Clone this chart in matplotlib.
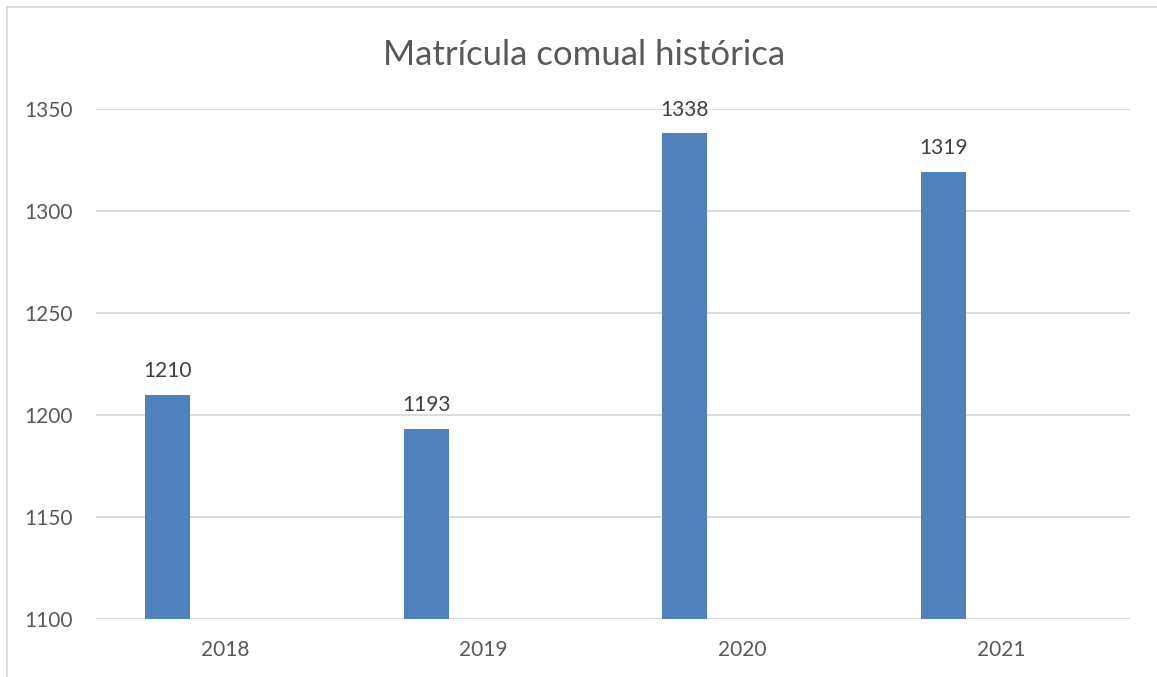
import matplotlib
matplotlib.use("Agg")
import matplotlib.pyplot as plt
from matplotlib.lines import Line2D
import numpy as np

years = ["2018", "2019", "2020", "2021"]
matricula = [1210, 1193, 1338, 1319]
yticks = [1100, 1150, 1200, 1250, 1300, 1350]
title = "Matrícula comual histórica"

plt.rcParams['font.family'] = ['Lato', 'DejaVu Sans']
txt = "#595959"
grid = "#D9D9D9"
bar_c = "#4F81BD"

W, H = 1157, 677
fig = plt.figure(figsize=(W / 100, H / 100), dpi=100)
ax = fig.add_axes([96 / W, 1 - 619 / H, (1130 - 96) / W, (619 - 109) / H])

x = np.arange(len(years))
offset = -0.2224
width = 0.174
ax.bar(x + offset, matricula, width=width, color=bar_c, zorder=3)
for xi, v in zip(x, matricula):
    ax.annotate(str(v), (xi + offset, v), xytext=(0, 10), textcoords="offset points",
                ha="center", va="bottom", fontsize=15, color="#404040")

ax.set_xlim(-0.5, len(years) - 0.5)
ax.set_ylim(yticks[0], yticks[-1])
ax.set_yticks(yticks)
ax.set_xticks(x)
ax.set_xticklabels(years)
ax.tick_params(axis="both", length=0, labelsize=15, colors=txt)
ax.tick_params(axis="y", pad=17)
ax.tick_params(axis="x", pad=15)
ax.yaxis.grid(True, color=grid, linewidth=1.3, zorder=0)
for s in ax.spines.values():
    s.set_visible(False)

fig.text(584 / W, 1 - 55 / H, title, ha="center", va="center", fontsize=25, color=txt)

# outer chart border (left and top visible)
fig.add_artist(Line2D([7 / W, 7 / W], [0, 1 - 7 / H], color=grid, linewidth=1.3))
fig.add_artist(Line2D([7 / W, 1], [1 - 7 / H, 1 - 7 / H], color=grid, linewidth=1.3))

fig.savefig("out.png", dpi=100)
